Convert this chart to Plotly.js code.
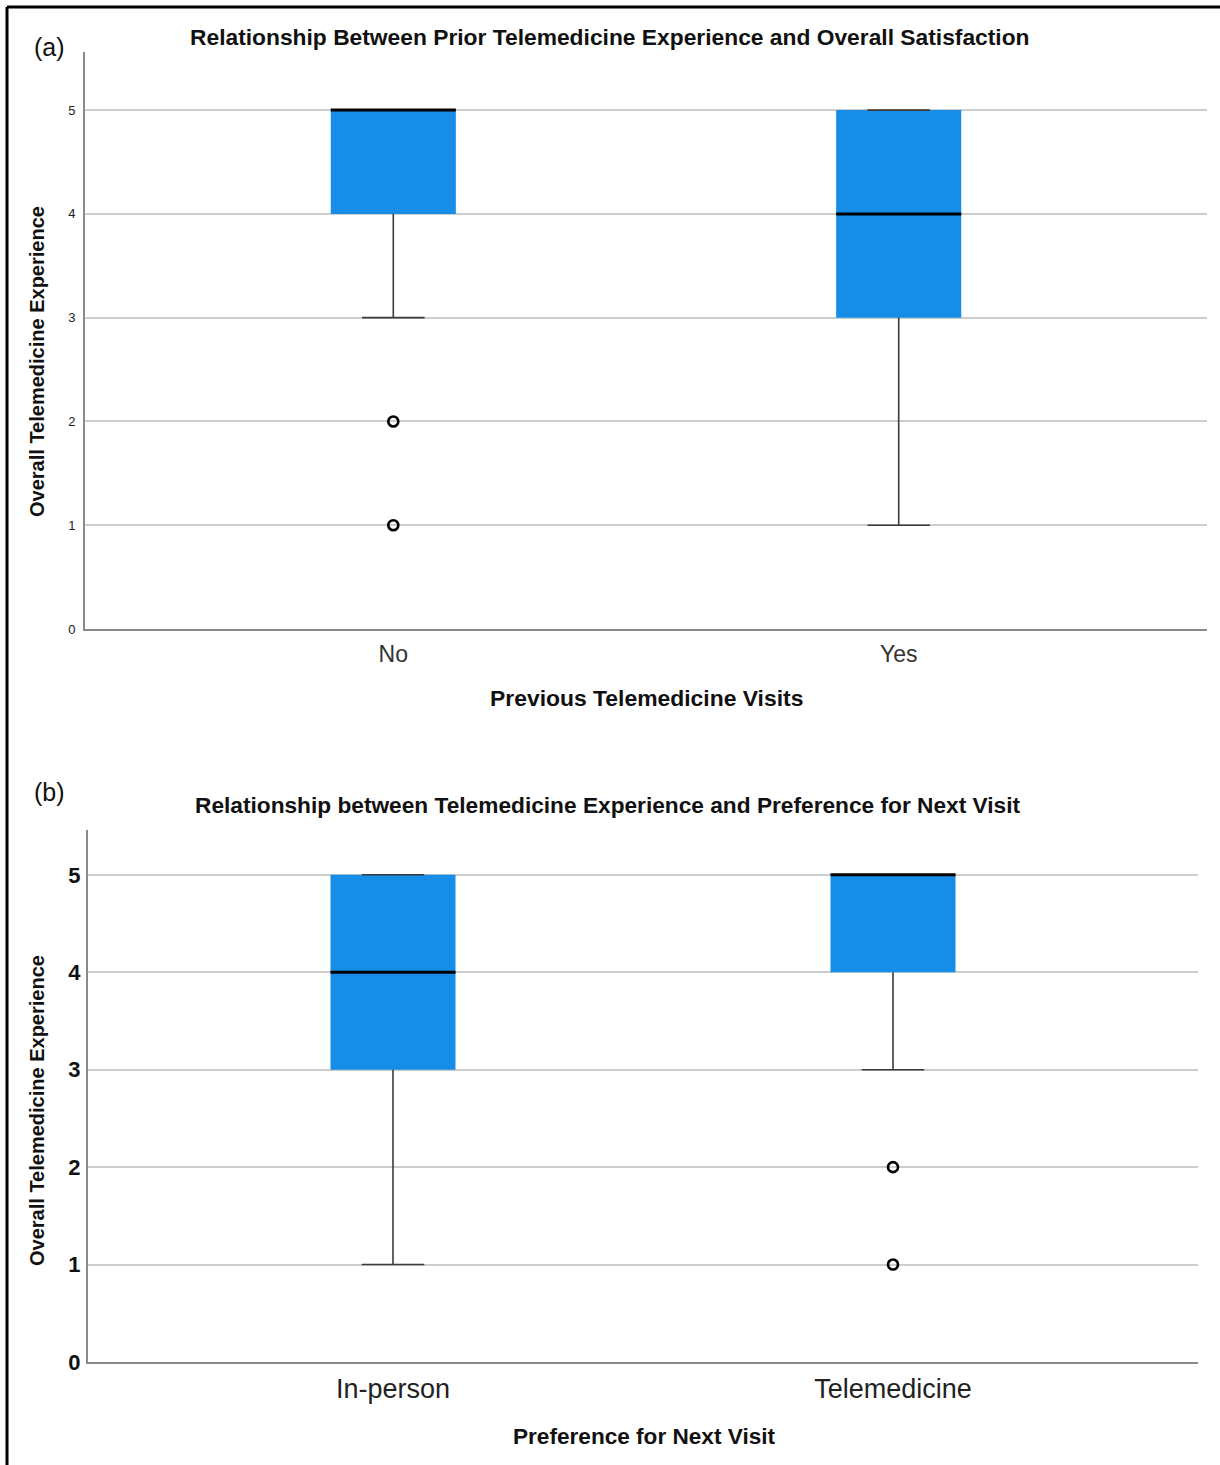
<!DOCTYPE html>
<html><head><meta charset="utf-8">
<script src="https://cdn.plot.ly/plotly-3.0.1.min.js"></script>
<style>html,body{margin:0;padding:0;background:#fff}#chart{width:1220px;height:1465px}</style>
</head><body><div id="chart"></div>
<script>
// ---- Data: panel (a) ----
const catsA = ['No', 'Yes'];
const q1A = [4, 3];
const medA = [5, 4];
const q3A = [5, 5];
const lowA = [3, 1];
const upA = [5, 5];
const outCatA = ['No', 'No'];
const outValA = [2, 1];

// ---- Data: panel (b) ----
const catsB = ['In-person', 'Telemedicine'];
const q1B = [3, 4];
const medB = [4, 5];
const q3B = [5, 5];
const lowB = [1, 3];
const upB = [5, 5];
const outCatB = ['Telemedicine', 'Telemedicine'];
const outValB = [2, 1];

const yTicks = [0, 1, 2, 3, 4, 5];

// ---- Styles ----
const W = 1220, H = 1465;
const fx = p => p / W;
const fy = p => 1 - p / H;
const BLUE = '#168de6';
const FONT = 'Liberation Sans, Arial, sans-serif';

function panel(cats, q1, med, q3, low, up, outCat, outVal, xa, ya, bw) {
  const idx = cats.map((c, i) => i);
  const traces = [];
  traces.push({
    type: 'box', x: idx, q1: q1, median: med, q3: q3,
    lowerfence: low, upperfence: up, width: bw,
    fillcolor: BLUE, line: {width: 0, color: BLUE}, boxpoints: false,
    xaxis: xa, yaxis: ya, showlegend: false, hoverinfo: 'skip'
  });
  const cw = bw / 4;
  const wx = [], wy = [];
  idx.forEach(i => {
    wx.push(i, i, null, i - cw, i + cw, null, i, i, null, i - cw, i + cw, null);
    wy.push(q1[i], low[i], null, low[i], low[i], null, q3[i], up[i], null, up[i], up[i], null);
  });
  traces.push({type: 'scatter', mode: 'lines', x: wx, y: wy, line: {color: '#3a3a3a', width: 1.6},
    xaxis: xa, yaxis: ya, showlegend: false, hoverinfo: 'skip', connectgaps: false});
  const mx = [], my = [];
  idx.forEach(i => { mx.push(i - bw / 2, i + bw / 2, null); my.push(med[i], med[i], null); });
  traces.push({type: 'scatter', mode: 'lines', x: mx, y: my, line: {color: '#000', width: 3},
    xaxis: xa, yaxis: ya, showlegend: false, hoverinfo: 'skip'});
  traces.push({type: 'scatter', mode: 'markers', x: outCat.map(c => cats.indexOf(c)), y: outVal,
    marker: {symbol: 'circle-open', size: 10, color: '#000', line: {width: 2.6, color: '#000'}},
    xaxis: xa, yaxis: ya, showlegend: false, hoverinfo: 'skip'});
  return traces;
}

const data = [
  ...panel(catsA, q1A, medA, q3A, lowA, upA, outCatA, outValA, 'x', 'y', 0.2475),
  ...panel(catsB, q1B, medB, q3B, lowB, upB, outCatB, outValB, 'x2', 'y2', 0.25)
];

const yCommon = {
  tickmode: 'array', tickvals: yTicks, ticktext: yTicks.map(String),
  showgrid: true, gridcolor: '#cdcdcd', gridwidth: 2, zeroline: false,
  showline: true, linecolor: '#8a8a8a', linewidth: 2, ticks: '', fixedrange: true
};
const xCommon = {
  tickmode: 'array', tickvals: [0, 1], showgrid: false, zeroline: false,
  showline: true, linecolor: '#8a8a8a', linewidth: 2, ticks: '', fixedrange: true
};

const ann = (text, px, py, size, bold, rot) => ({
  text: bold ? '<b>' + text + '</b>' : text, xref: 'paper', yref: 'paper',
  x: fx(px), y: fy(py), xanchor: 'center', yanchor: 'middle', showarrow: false,
  textangle: rot || 0, font: {family: FONT, size: size, color: '#111'}
});

const layout = {
  width: W, height: H, margin: {l: 0, r: 0, t: 0, b: 0},
  paper_bgcolor: '#fff', plot_bgcolor: '#fff', showlegend: false,
  font: {family: FONT},
  xaxis: Object.assign({}, xCommon, {domain: [fx(85), fx(1207)], range: [-0.61, 1.61], anchor: 'y',
    ticktext: catsA, tickfont: {size: 23, color: '#333', family: FONT}, ticklabelstandoff: 3}),
  yaxis: Object.assign({}, yCommon, {domain: [fy(629), fy(52)], range: [0, 5.56], anchor: 'x',
    tickfont: {size: 13, color: '#222', family: FONT}, ticklabelstandoff: 5}),
  xaxis2: Object.assign({}, xCommon, {domain: [fx(88), fx(1198)], range: [-0.61, 1.61], anchor: 'y2',
    ticktext: catsB, tickfont: {size: 27, color: '#222', family: FONT}, ticklabelstandoff: 2}),
  yaxis2: Object.assign({}, yCommon, {domain: [fy(1362), fy(830)], range: [0, 5.46], anchor: 'x2',
    tickfont: {size: 22, color: '#111', family: FONT, weight: 'bold'}, ticklabelstandoff: 1}),
  annotations: [
    ann('(a)', 50, 47, 25, false),
    ann('Relationship Between Prior Telemedicine Experience and Overall Satisfaction', 610, 37, 22.8, true),
    ann('Previous Telemedicine Visits', 646, 698, 22.9, true),
    ann('Overall Telemedicine Experience', 37, 362, 20, true, -90),
    ann('(b)', 50, 792, 25, false),
    ann('Relationship between Telemedicine Experience and Preference for Next Visit', 607, 805, 22.7, true),
    ann('Preference for Next Visit', 644, 1436, 22.6, true),
    ann('Overall Telemedicine Experience', 37, 1111, 20, true, -90)
  ],
  shapes: [
    {type: 'line', xref: 'paper', yref: 'paper', x0: fx(7), x1: fx(7), y0: 0, y1: fy(7), line: {color: '#000', width: 3}},
    {type: 'line', xref: 'paper', yref: 'paper', x0: fx(7), x1: 1, y0: fy(7), y1: fy(7), line: {color: '#000', width: 3}}
  ]
};

Plotly.newPlot('chart', data, layout, {staticPlot: true, displayModeBar: false});
</script>
</body></html>
